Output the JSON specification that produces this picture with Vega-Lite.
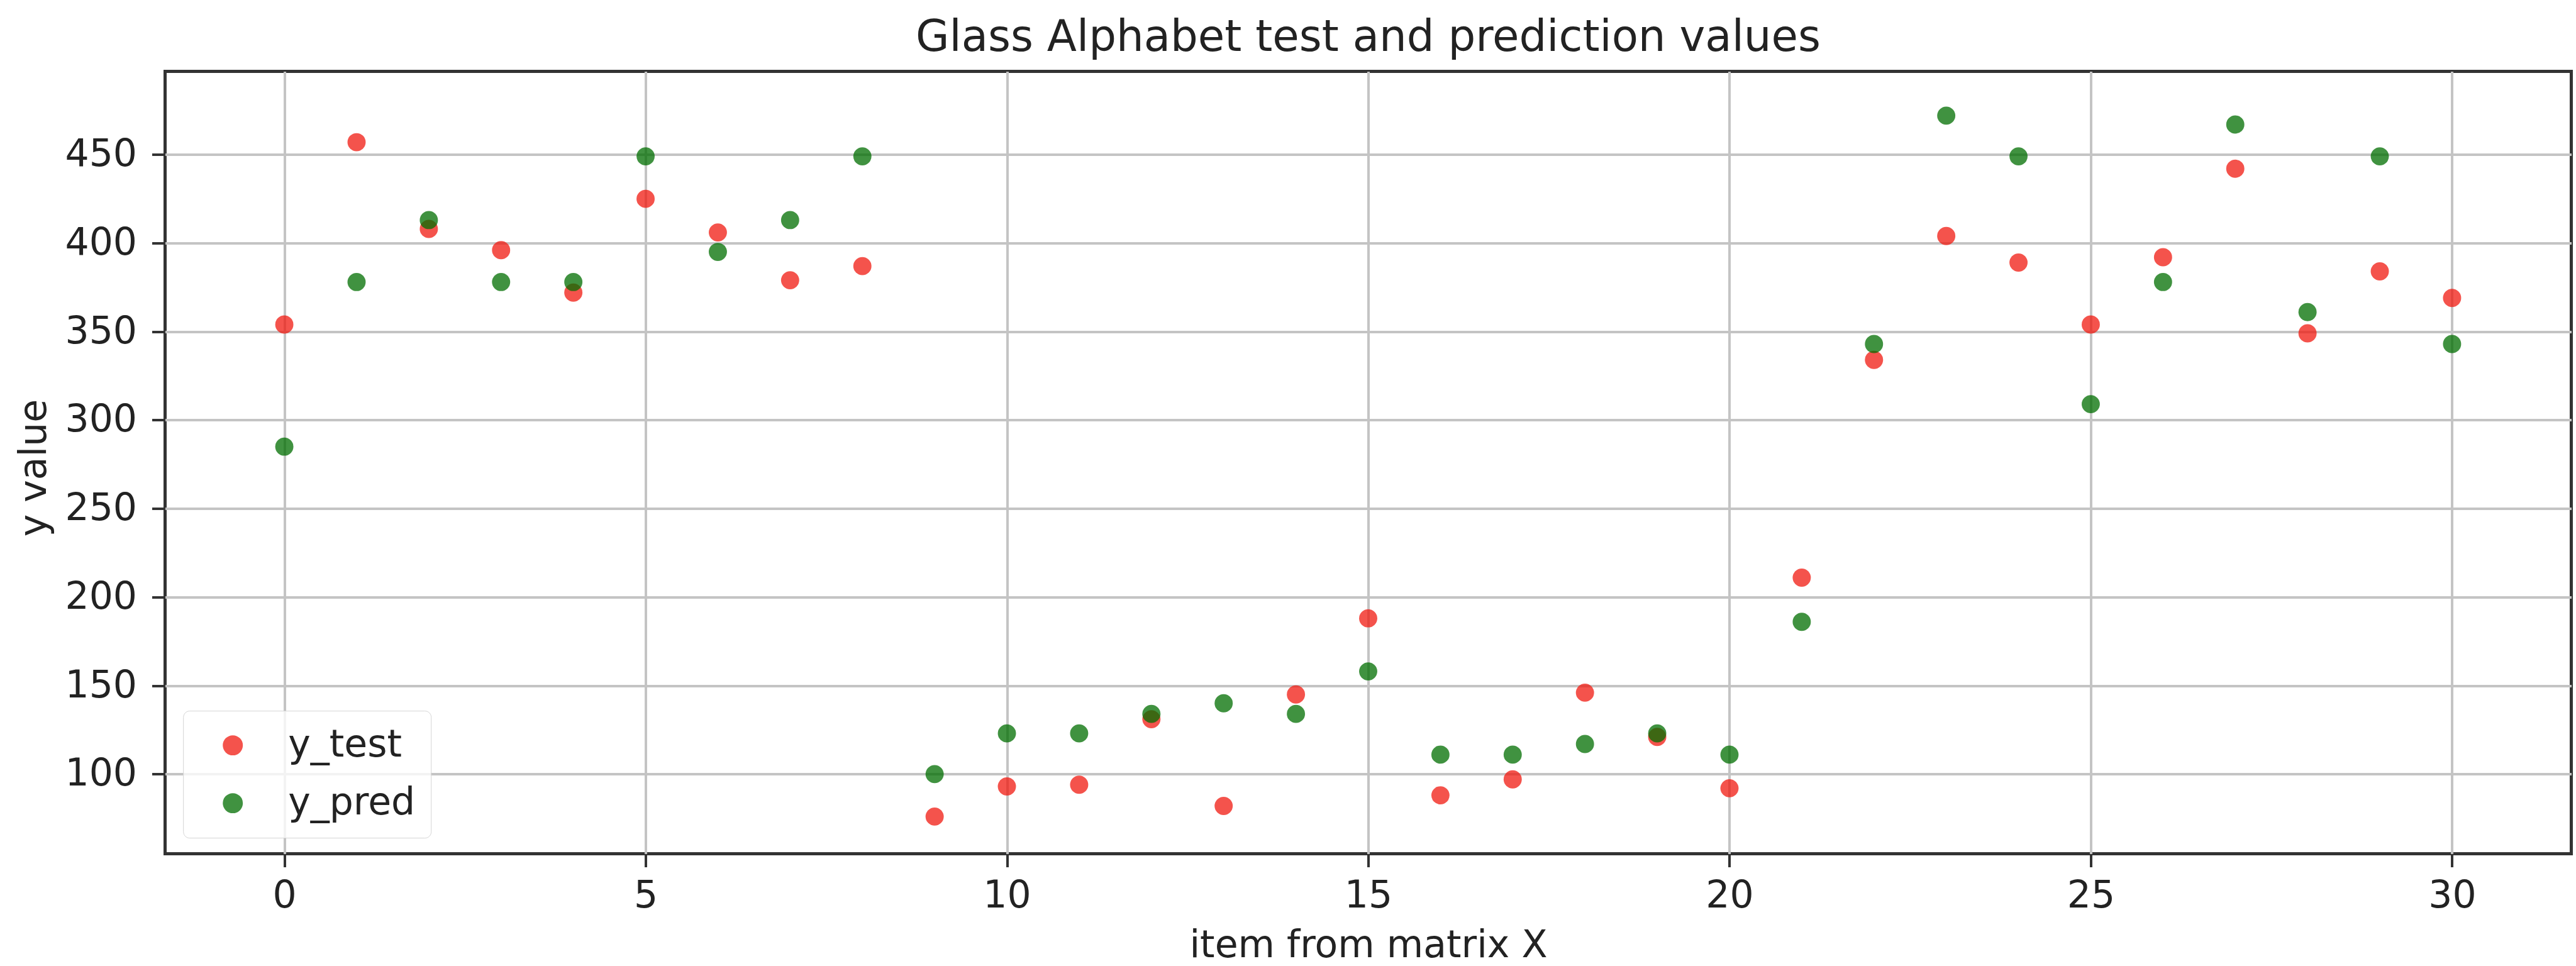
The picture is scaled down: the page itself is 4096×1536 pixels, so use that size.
{
  "$schema": "https://vega.github.io/schema/vega-lite/v6.json",
  "width": 3826,
  "height": 1244,
  "autosize": {"type": "none"},
  "padding": {"left": 262.5, "top": 113.5, "right": 7.5, "bottom": 178.5},
  "background": "white",
  "title": {
    "text": "Glass Alphabet test and prediction values",
    "fontSize": 69,
    "font": "DejaVu Sans",
    "fontWeight": "normal",
    "color": "#222222",
    "anchor": "middle",
    "frame": "group",
    "baseline": "alphabetic",
    "offset": 36,
    "dy": 72
  },
  "data": {
    "values": [
      {"item": 0, "series": "y_test", "value": 354},
      {"item": 1, "series": "y_test", "value": 457},
      {"item": 2, "series": "y_test", "value": 408},
      {"item": 3, "series": "y_test", "value": 396},
      {"item": 4, "series": "y_test", "value": 372},
      {"item": 5, "series": "y_test", "value": 425},
      {"item": 6, "series": "y_test", "value": 406},
      {"item": 7, "series": "y_test", "value": 379},
      {"item": 8, "series": "y_test", "value": 387},
      {"item": 9, "series": "y_test", "value": 76},
      {"item": 10, "series": "y_test", "value": 93},
      {"item": 11, "series": "y_test", "value": 94},
      {"item": 12, "series": "y_test", "value": 131},
      {"item": 13, "series": "y_test", "value": 82},
      {"item": 14, "series": "y_test", "value": 145},
      {"item": 15, "series": "y_test", "value": 188},
      {"item": 16, "series": "y_test", "value": 88},
      {"item": 17, "series": "y_test", "value": 97},
      {"item": 18, "series": "y_test", "value": 146},
      {"item": 19, "series": "y_test", "value": 121},
      {"item": 20, "series": "y_test", "value": 92},
      {"item": 21, "series": "y_test", "value": 211},
      {"item": 22, "series": "y_test", "value": 334},
      {"item": 23, "series": "y_test", "value": 404},
      {"item": 24, "series": "y_test", "value": 389},
      {"item": 25, "series": "y_test", "value": 354},
      {"item": 26, "series": "y_test", "value": 392},
      {"item": 27, "series": "y_test", "value": 442},
      {"item": 28, "series": "y_test", "value": 349},
      {"item": 29, "series": "y_test", "value": 384},
      {"item": 30, "series": "y_test", "value": 369},
      {"item": 0, "series": "y_pred", "value": 285},
      {"item": 1, "series": "y_pred", "value": 378},
      {"item": 2, "series": "y_pred", "value": 413},
      {"item": 3, "series": "y_pred", "value": 378},
      {"item": 4, "series": "y_pred", "value": 378},
      {"item": 5, "series": "y_pred", "value": 449},
      {"item": 6, "series": "y_pred", "value": 395},
      {"item": 7, "series": "y_pred", "value": 413},
      {"item": 8, "series": "y_pred", "value": 449},
      {"item": 9, "series": "y_pred", "value": 100},
      {"item": 10, "series": "y_pred", "value": 123},
      {"item": 11, "series": "y_pred", "value": 123},
      {"item": 12, "series": "y_pred", "value": 134},
      {"item": 13, "series": "y_pred", "value": 140},
      {"item": 14, "series": "y_pred", "value": 134},
      {"item": 15, "series": "y_pred", "value": 158},
      {"item": 16, "series": "y_pred", "value": 111},
      {"item": 17, "series": "y_pred", "value": 111},
      {"item": 18, "series": "y_pred", "value": 117},
      {"item": 19, "series": "y_pred", "value": 123},
      {"item": 20, "series": "y_pred", "value": 111},
      {"item": 21, "series": "y_pred", "value": 186},
      {"item": 22, "series": "y_pred", "value": 343},
      {"item": 23, "series": "y_pred", "value": 472},
      {"item": 24, "series": "y_pred", "value": 449},
      {"item": 25, "series": "y_pred", "value": 309},
      {"item": 26, "series": "y_pred", "value": 378},
      {"item": 27, "series": "y_pred", "value": 467},
      {"item": 28, "series": "y_pred", "value": 361},
      {"item": 29, "series": "y_pred", "value": 449},
      {"item": 30, "series": "y_pred", "value": 343}
    ]
  },
  "mark": {"type": "point", "filled": true, "size": 835, "opacity": 0.75, "strokeWidth": 0},
  "encoding": {
    "x": {
      "field": "item",
      "type": "quantitative",
      "scale": {"domain": [-1.65, 31.65], "nice": false, "zero": false},
      "axis": {
        "values": [0, 5, 10, 15, 20, 25, 30],
        "title": "item from matrix X",
        "grid": true,
        "gridColor": "#c4c4c4",
        "gridWidth": 4,
        "domain": false,
        "tickColor": "#333333",
        "tickWidth": 4,
        "tickSize": 21,
        "labelFontSize": 60,
        "labelFont": "DejaVu Sans",
        "labelColor": "#222222",
        "labelPadding": 17,
        "labelFlush": false,
        "titleFontSize": 60,
        "titleFont": "DejaVu Sans",
        "titleFontWeight": "normal",
        "titleColor": "#222222",
        "titleY": 164,
        "titleBaseline": "alphabetic"
      }
    },
    "y": {
      "field": "value",
      "type": "quantitative",
      "scale": {"domain": [55, 497], "nice": false, "zero": false},
      "axis": {
        "values": [100, 150, 200, 250, 300, 350, 400, 450],
        "title": "y value",
        "grid": true,
        "gridColor": "#c4c4c4",
        "gridWidth": 4,
        "domain": false,
        "tickColor": "#333333",
        "tickWidth": 4,
        "tickSize": 21,
        "labelFontSize": 60,
        "labelFont": "DejaVu Sans",
        "labelColor": "#222222",
        "labelPadding": 24,
        "labelFlush": false,
        "titleFontSize": 60,
        "titleFont": "DejaVu Sans",
        "titleFontWeight": "normal",
        "titleColor": "#222222",
        "titleX": -190.5,
        "titleY": 630,
        "titleAngle": -90,
        "titleAlign": "center",
        "titleBaseline": "alphabetic"
      }
    },
    "color": {
      "field": "series",
      "type": "nominal",
      "scale": {"domain": ["y_test", "y_pred"], "range": ["#f01a10", "#006e00"]},
      "legend": {
        "orient": "none",
        "legendX": 28.7,
        "legendY": 1016.6,
        "title": null,
        "padding": 25,
        "symbolType": "circle",
        "symbolSize": 1020,
        "symbolStrokeWidth": 0,
        "symbolOpacity": 0.75,
        "symbolOffset": 24,
        "labelOffset": 58,
        "labelFontSize": 60,
        "labelFont": "DejaVu Sans",
        "labelColor": "#222222",
        "labelLimit": 0,
        "rowPadding": 32,
        "fillColor": "rgba(255,255,255,0.8)",
        "strokeColor": "#d4d4d4",
        "cornerRadius": 10
      }
    }
  },
  "config": {
    "view": {"stroke": "#333333", "strokeWidth": 5}
  }
}
